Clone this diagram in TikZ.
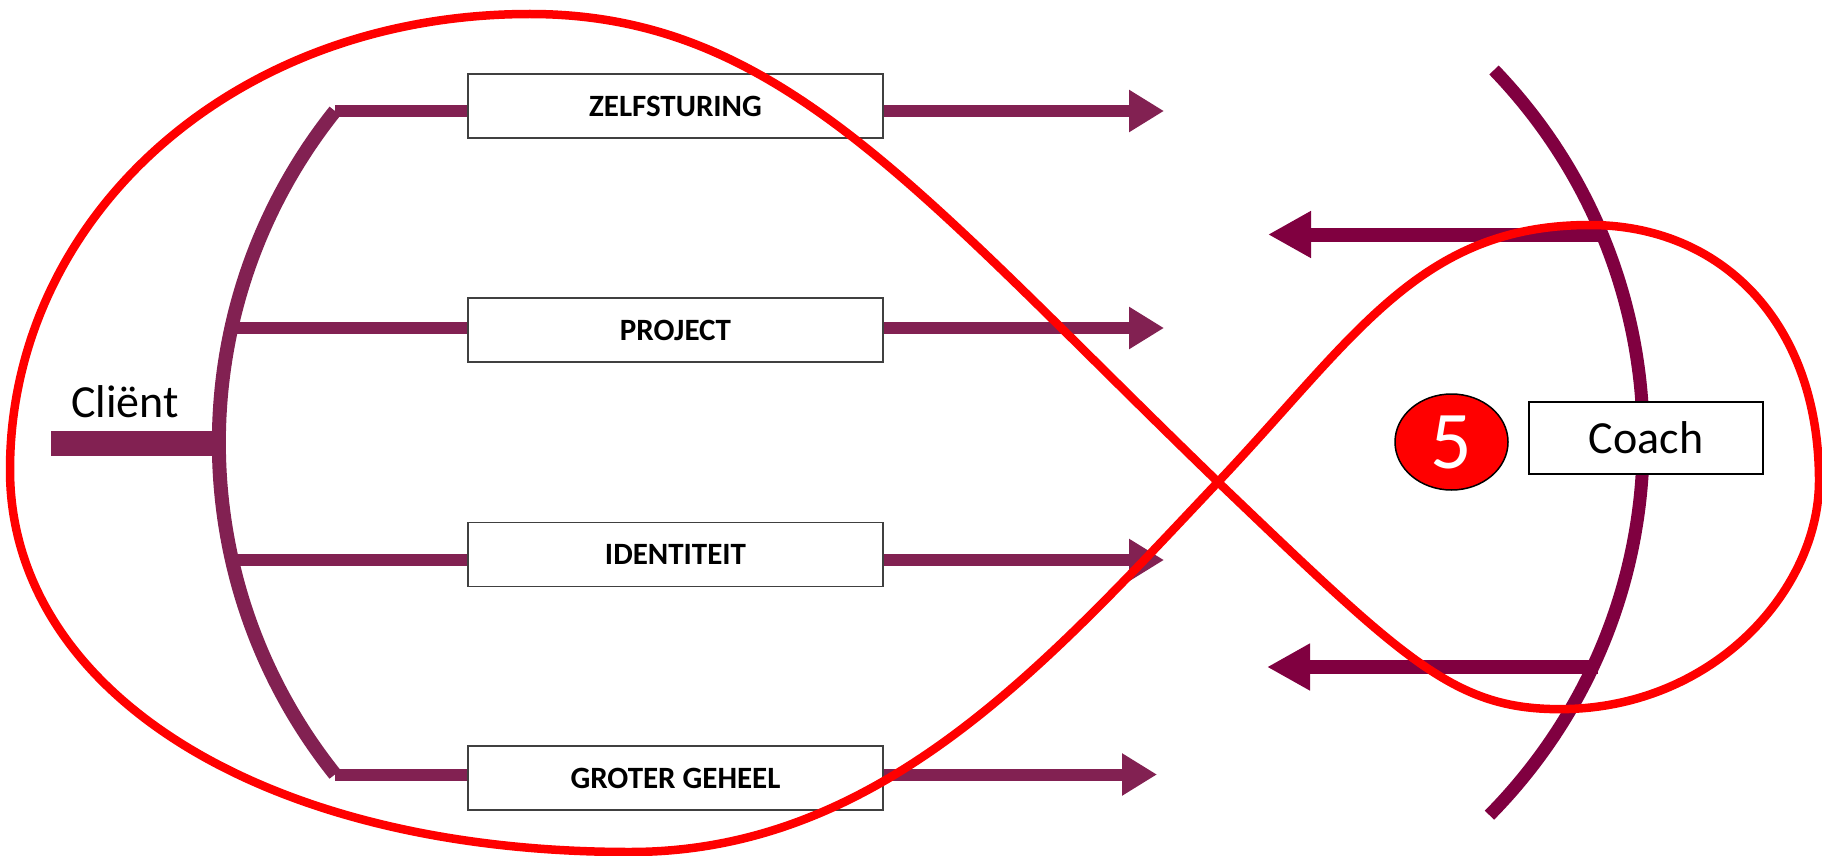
\documentclass[tikz,border=0pt]{standalone}
\usepackage{fontspec}
\setmainfont{Carlito}
\usetikzlibrary{arrows.meta,shapes.geometric}
\definecolor{plum}{RGB}{130,33,82}
\definecolor{wine}{RGB}{128,0,64}
\definecolor{loopred}{RGB}{255,0,0}
\definecolor{boxline}{RGB}{64,64,64}
\begin{document}
\begin{tikzpicture}[x=1pt,y=-1pt,
  lbl/.style={draw=boxline, line width=1.5pt, fill=white, minimum width=415pt, minimum height=64pt, inner sep=0pt, font=\fontsize{31}{36}\selectfont\bfseries},
  branch/.style={draw=plum, line width=12pt},
  outarrow/.style={draw=plum, line width=12pt, -{Triangle[length=35pt,width=40pt]}},
  inarrow/.style={draw=wine, line width=14pt, -{Triangle[length=43pt,width=44pt]}},
  clientarc/.style={draw=plum, line width=14pt},
  coacharc/.style={draw=wine, line width=13pt},
  loopline/.style={draw=loopred, line width=8.5pt, line cap=round, line join=round},
  bigtext/.style={font=\fontsize{46}{55}\selectfont}
]
\useasboundingbox (0,0) rectangle (1822,856);

% row levels
\coordinate (r1) at (0,111);
\coordinate (r2) at (0,328);
\coordinate (r3) at (0,560);
\coordinate (r4) at (0,774.5);

% boxes
\node[lbl] (b1) at (675.5,106) {ZELFSTURING};
\node[lbl] (b2) at (675.5,330) {PROJECT};
\node[lbl] (b3) at (675.5,554.5) {IDENTITEIT};
\node[lbl] (b4) at (675.5,778) {GROTER GEHEEL};

% client arc and branches
\coordinate (ctop) at (335,111);
\coordinate (cbot) at (335,774.5);
\coordinate (a2) at (227,328);
\coordinate (a3) at (227,560);
\draw[clientarc] (ctop) arc[start angle=141.4, end angle=218.6, radius=531.7pt];
\draw[branch] (ctop) -- (b1.west |- r1);
\draw[branch] (a2) -- (b2.west |- r2);
\draw[branch] (a3) -- (b3.west |- r3);
\draw[branch] (cbot) -- (b4.west |- r4);

% client bar and label
\coordinate (cl) at (51,443.5);
\coordinate (cr) at (219,443.5);
\draw[draw=plum, line width=25pt] (cl) -- (cr);
\node[bigtext, anchor=base west, inner sep=0pt] (client) at (71,417) {Cliënt};

% outgoing arrows
\coordinate (t1) at (1164,111);
\coordinate (t2) at (1164,328);
\coordinate (t3) at (1164,560);
\coordinate (t4) at (1157,774.5);
\draw[outarrow] (b1.east |- r1) -- (t1);
\draw[outarrow] (b2.east |- r2) -- (t2);
\draw[outarrow] (b3.east |- r3) -- (t3);
\draw[outarrow] (b4.east |- r4) -- (t4);

% coach arc
\coordinate (ktop) at (1494,70);
\draw[coacharc] (ktop) arc[start angle=43.9, end angle=-44.6, radius=534pt];

% incoming arrows
\coordinate (u0) at (1598,234.5);
\coordinate (u1) at (1268,234.5);
\coordinate (v0) at (1598,667);
\coordinate (v1) at (1267,667);
\draw[inarrow] (u0) -- (u1);
\draw[inarrow] (v0) -- (v1);

% number and coach
\node[ellipse, draw=black, line width=1.5pt, fill=loopred, minimum width=113pt, minimum height=96pt, inner sep=0pt, text=white, font=\fontsize{82}{90}\selectfont] (five) at (1451.5,442) {5};
\node[draw=black, line width=1.5pt, fill=white, minimum width=234pt, minimum height=72pt, inner sep=0pt, bigtext] (coach) at (1646,438) {Coach};

% red infinity loop
\coordinate (xing) at (1218,482);
\draw[loopline] (xing)
  .. controls (918,192) and (780,14) .. (530,14)
  .. controls (230,14) and (10,220) .. (10,470)
  .. controls (10,690) and (260,852) .. (630,852)
  .. controls (880,852) and (1046,664) .. (xing)
  .. controls (1356,336) and (1420,225) .. (1590,225)
  .. controls (1720,225) and (1819,321) .. (1819,481)
  .. controls (1819,591) and (1710,714) .. (1550,709)
  .. controls (1450,706) and (1398,654) .. (xing);
\end{tikzpicture}
\end{document}
